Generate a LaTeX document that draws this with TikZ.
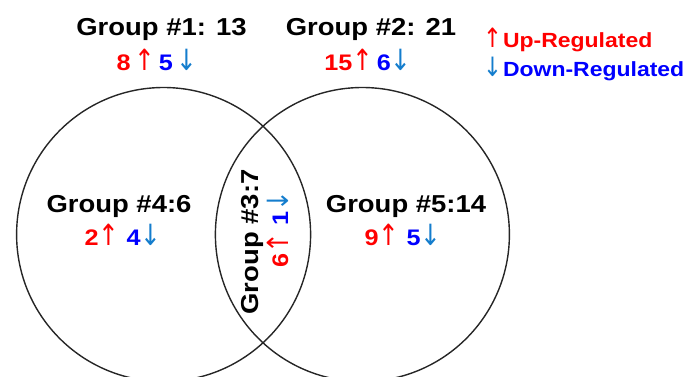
\documentclass[tikz,border=0pt]{standalone}
\usepackage{fontspec}
\usepackage{graphicx}
\setmainfont{Liberation Sans}[FakeStretch=1.12]
\newfontfamily\arrf{DejaVu Sans}
\definecolor{upred}{RGB}{255,0,0}
\definecolor{dnblue}{RGB}{0,0,255}
\definecolor{arrblue}{RGB}{20,125,205}
\newcommand{\myup}{\textcolor{upred}{\scalebox{1.1}[1.3]{\arrf\mdseries ↑}}}
\newcommand{\mydn}{\textcolor{arrblue}{\scalebox{1.1}[1.3]{\arrf\mdseries ↓}}}
\newcommand{\rd}[1]{\textcolor{upred}{#1}}
\newcommand{\bl}[1]{\textcolor{dnblue}{#1}}
\begin{document}
\begin{tikzpicture}[x=1pt,y=-1pt,
  title/.style={font=\bfseries\fontsize{24.5}{28}\selectfont, anchor=base, inner sep=0pt},
  counts/.style={font=\bfseries\fontsize{22.5}{26}\selectfont, anchor=base, inner sep=0pt},
  legend/.style={font=\bfseries\fontsize{20.5}{24}\selectfont, anchor=base west, inner sep=0pt},
  ring/.style={draw=black!85, line width=1.4pt, circle, minimum size=294pt, inner sep=0pt}]
\useasboundingbox (0,0) rectangle (689,376);
\clip (0,0) rectangle (689,376);
\node[ring] (c1) at (163.6,234.5) {};
\node[ring] (c2) at (362.4,234.5) {};
\node[title] (g1) at (161.5,35) {Group \#1: 13};
\node[counts] (n1) at (157,70) {\rd{8}\,\myup\,\bl{5}\,\mydn};
\node[title] (g2) at (371,35) {Group \#2: 21};
\node[counts] (n2) at (368,70) {\rd{15}\myup\,\bl{6}\mydn};
\node[legend] (lu) at (483,47) {\myup\kern1pt\rd{Up-Regulated}};
\node[legend] (ld) at (483,76) {\mydn\kern1pt\bl{Down-Regulated}};
\node[title] (g4) at (119,212) {Group \#4:6};
\node[counts] (n4) at (123,245) {\rd{2}\myup\ \bl{4}\mydn};
\node[title] (g5) at (406,212) {Group \#5:14};
\node[counts] (n5) at (403,245) {\rd{9}\myup\ \bl{5}\mydn};
\node[title, rotate=90] (g3) at (258,242) {Group \#3:7};
\node[counts, rotate=90] (n3) at (288,229) {\rd{6}\myup\ \bl{1}\mydn};
\end{tikzpicture}
\end{document}
